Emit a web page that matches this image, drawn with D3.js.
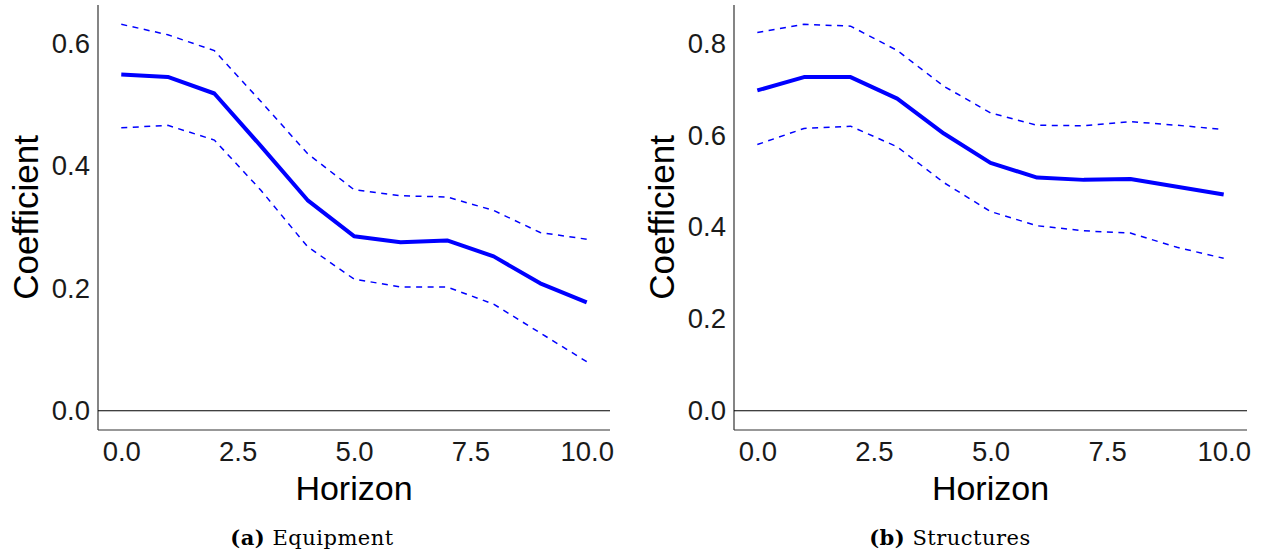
<!DOCTYPE html>
<html>
<head>
<meta charset="utf-8">
<script src="https://cdn.jsdelivr.net/npm/d3@7"></script>
<style>
html,body{margin:0;padding:0;background:#fff;}
svg{display:block;}
</style>
</head>
<body>
<svg id="chart" width="1263" height="558"></svg>
<script>
// ---- Data ----
const horizon = [0,1,2,3,4,5,6,7,8,9,10];

const equipCoef  = [0.549,0.545,0.518,0.432,0.344,0.285,0.275,0.278,0.252,0.208,0.177];
const equipUpper = [0.631,0.614,0.588,0.505,0.420,0.361,0.351,0.349,0.327,0.291,0.280];
const equipLower = [0.462,0.466,0.442,0.360,0.268,0.215,0.202,0.202,0.174,0.127,0.080];

const structCoef  = [0.698,0.727,0.727,0.680,0.604,0.540,0.508,0.503,0.505,0.488,0.471];
const structUpper = [0.824,0.842,0.838,0.785,0.707,0.649,0.622,0.621,0.630,0.622,0.613];
const structLower = [0.580,0.615,0.620,0.575,0.497,0.434,0.403,0.392,0.387,0.356,0.332];

const xTicks = [0, 2.5, 5, 7.5, 10];
const equipYTicks = [0, 0.2, 0.4, 0.6];
const structYTicks = [0, 0.2, 0.4, 0.6, 0.8];

const captions = [
  {bold: "(a)", text: " Equipment"},
  {bold: "(b)", text: " Structures"}
];

// ---- Drawing ----
const svg = d3.select("#chart");

function panel(opts) {
  const {left, right, top, bottom, coef, upper, lower, yTicks, caption, captionX} = opts;
  const g = svg.append("g");

  const yMax = d3.max([...upper, ...coef, ...lower, 0]);
  const yMin = d3.min([...upper, ...coef, ...lower, 0]);
  const yPad = (yMax - yMin) * 0.05;
  const x = d3.scaleLinear().domain([-0.5, 10.5]).range([left, right]);
  const y = d3.scaleLinear().domain([yMin - yPad, yMax + yPad]).range([bottom, top]);

  // axes
  const yAxis = d3.axisLeft(y).tickValues(yTicks).tickFormat(d3.format(".1f")).tickSize(0).tickPadding(8);
  const xAxis = d3.axisBottom(x).tickValues(xTicks).tickFormat(d3.format(".1f")).tickSize(0).tickPadding(10);

  const ya = g.append("g").attr("transform", `translate(${left},0)`).call(yAxis);
  const xa = g.append("g").attr("transform", `translate(0,${bottom})`).call(xAxis);
  [ya, xa].forEach(a => {
    a.select(".domain").remove();
    a.selectAll("text")
      .attr("font-family", "'Liberation Sans', Arial, sans-serif")
      .attr("font-size", 27.5)
      .attr("fill", "#1a1a1a");
  });
  xa.selectAll("text").attr("dy", "0.75em");

  g.append("line")
    .attr("x1", left).attr("x2", left).attr("y1", top).attr("y2", bottom)
    .attr("stroke", "#333").attr("stroke-width", 1.2);
  g.append("line")
    .attr("x1", left).attr("x2", right).attr("y1", bottom).attr("y2", bottom)
    .attr("stroke", "#333").attr("stroke-width", 1.2);

  // zero line
  g.append("line")
    .attr("x1", left).attr("x2", right).attr("y1", y(0)).attr("y2", y(0))
    .attr("stroke", "#000").attr("stroke-width", 1.1);

  const line = d3.line().x((d, i) => x(horizon[i])).y(d => y(d));

  g.append("path").datum(upper).attr("d", line)
    .attr("fill", "none").attr("stroke", "#0000ff").attr("stroke-width", 1.5)
    .attr("stroke-dasharray", "6,5.5");
  g.append("path").datum(lower).attr("d", line)
    .attr("fill", "none").attr("stroke", "#0000ff").attr("stroke-width", 1.5)
    .attr("stroke-dasharray", "6,5.5");
  g.append("path").datum(coef).attr("d", line)
    .attr("fill", "none").attr("stroke", "#0000ff").attr("stroke-width", 4)
    .attr("stroke-linejoin", "round");

  // axis titles
  g.append("text")
    .attr("transform", `translate(${left - 60},${(top + bottom) / 2}) rotate(-90)`)
    .attr("text-anchor", "middle")
    .attr("font-family", "'Liberation Sans', Arial, sans-serif")
    .attr("font-size", 35)
    .attr("fill", "#000")
    .text("Coefficient");

  g.append("text")
    .attr("x", (left + right) / 2).attr("y", 500)
    .attr("text-anchor", "middle")
    .attr("font-family", "'Liberation Sans', Arial, sans-serif")
    .attr("font-size", 34)
    .attr("fill", "#000")
    .text("Horizon");

  // caption
  const cap = g.append("text")
    .attr("x", captionX).attr("y", 545)
    .attr("text-anchor", "middle")
    .attr("font-family", "'DejaVu Serif', serif")
    .attr("font-size", 21)
    .attr("letter-spacing", 0.5)
    .attr("fill", "#000");
  cap.append("tspan").attr("font-weight", "bold").text(caption.bold);
  cap.append("tspan").text(caption.text);
}

panel({left: 98, right: 610, top: 5, bottom: 430,
  coef: equipCoef, upper: equipUpper, lower: equipLower,
  yTicks: equipYTicks, caption: captions[0], captionX: 312});

panel({left: 734, right: 1247, top: 5, bottom: 430,
  coef: structCoef, upper: structUpper, lower: structLower,
  yTicks: structYTicks, caption: captions[1], captionX: 950});
</script>
</body>
</html>
